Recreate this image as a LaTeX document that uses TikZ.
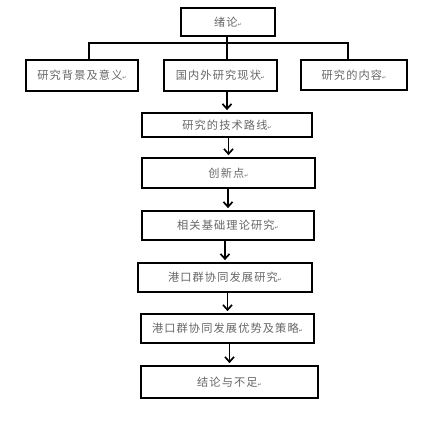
\documentclass[tikz,border=0pt]{standalone}
\usepackage{fontspec}
\newfontfamily\cjk[LetterSpace=10]{Noto Sans CJK SC}
\newfontfamily\dv{DejaVu Sans}
\usetikzlibrary{arrows.meta}
\newcommand{\pmk}{{\dv\fontsize{5}{5}\selectfont ↵}}
\tikzset{
  boxnode/.style={draw=black, line width=1.7pt, inner sep=0pt, align=center,
    font=\cjk\fontsize{11.2}{13}\selectfont, text=black!60},
  arr/.style={line width=1.7pt, -{Straight Barb[length=5pt,width=9pt,line width=1.7pt]}, shorten >=2pt},
  lnk/.style={line width=1.7pt}
}
\begin{document}
\begin{tikzpicture}[x=1pt,y=-1pt]
\useasboundingbox[fill=white] (0,0) rectangle (439,421);
\node[boxnode, minimum width=94pt, minimum height=28pt] (lun) at (228,22) {绪论\pmk};
\node[boxnode, minimum width=112pt, minimum height=31pt] (bg) at (82,75.5) {研究背景及意义\pmk};
\node[boxnode, minimum width=113pt, minimum height=31pt] (gn) at (220.5,75.5) {国内外研究现状\pmk};
\node[boxnode, minimum width=106pt, minimum height=30pt] (nr) at (354,75) {研究的内容\pmk};
\node[boxnode, minimum width=170pt, minimum height=24pt] (lx) at (227,125) {研究的技术路线\pmk};
\node[boxnode, minimum width=173pt, minimum height=30pt] (cx) at (228.5,173) {创新点\pmk};
\node[boxnode, minimum width=172pt, minimum height=29pt] (xg) at (228,225.5) {相关基础理论研究\pmk};
\node[boxnode, minimum width=174pt, minimum height=29pt] (gk) at (225,277.5) {港口群协同发展研究\pmk};
\node[boxnode, minimum width=173pt, minimum height=29pt] (ys) at (227.5,328.5) {港口群协同发展优势及策略\pmk};
\node[boxnode, minimum width=177pt, minimum height=32pt] (jl) at (229.5,382) {结论与不足\pmk};
\coordinate (bl) at (89,43);
\coordinate (br) at (348,43);
\coordinate (bc) at (227,43);
\draw[lnk] (bc |- lun.south) -- (bc |- gn.north);
\draw[lnk] (bl |- bg.north) -- (bl) -- (br) -- (br |- nr.north);
\draw[arr] (lx.north |- gn.south) -- (lx.north);
\draw[arr] (cx.north |- lx.south) -- (cx.north);
\draw[arr] (xg.north |- cx.south) -- (xg.north);
\draw[arr] (gk.north |- xg.south) -- (gk.north);
\draw[arr] (ys.north |- gk.south) -- (ys.north);
\draw[arr] (jl.north |- ys.south) -- (jl.north);
\end{tikzpicture}
\end{document}
